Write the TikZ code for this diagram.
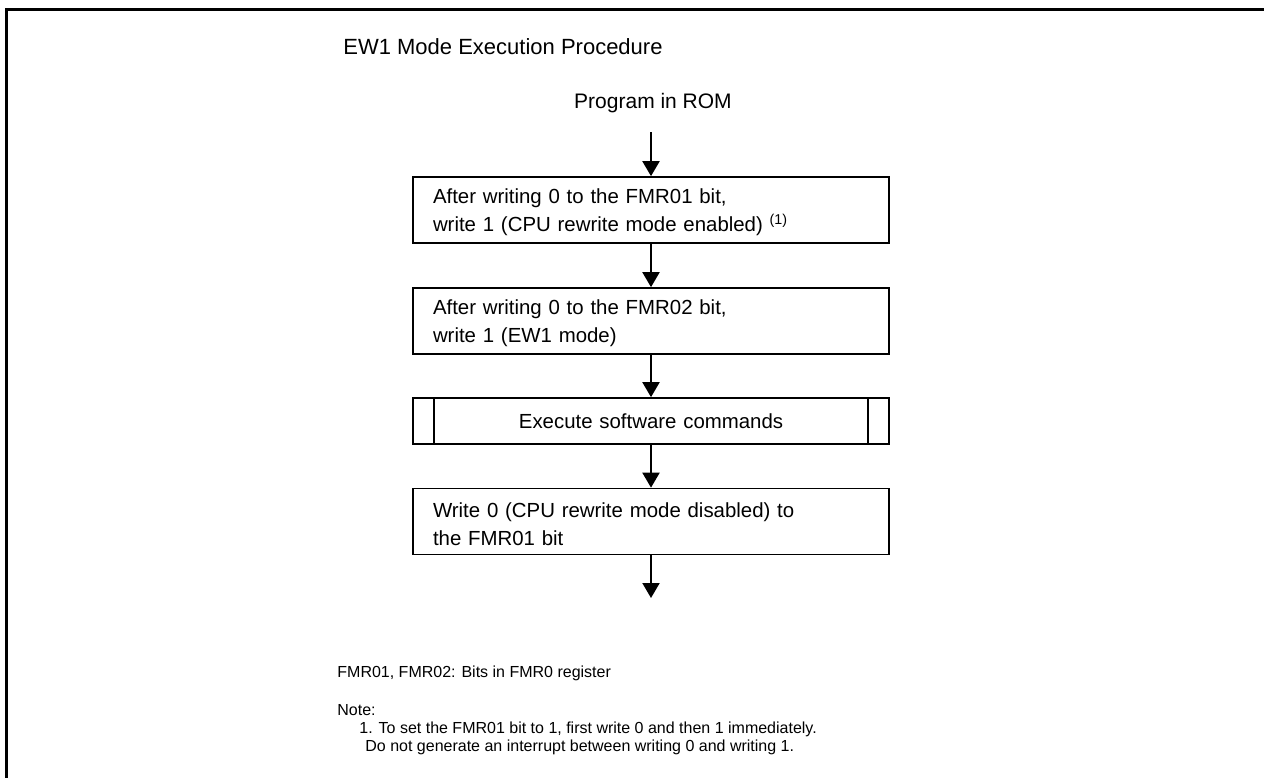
\documentclass[tikz,border=0pt]{standalone}
\usepackage{fontspec}
\setmainfont{Liberation Sans}
\usepackage{tikz}
\usetikzlibrary{arrows.meta,positioning}

\begin{document}
\begin{tikzpicture}[
  x=0.5pt, y=-0.5pt,
  every node/.style={inner sep=0pt},
  boxtxt/.style={font=\fontsize{10.2}{14}\selectfont},
  plainbox/.style={boxtxt, draw=black, line width=0.85pt, rectangle, minimum width=238pt, minimum height=33pt,
    text width=218pt, inner xsep=10pt, align=left},
  stepbox/.style={plainbox, text height=9.8pt},
  subbox/.style={plainbox, minimum height=23pt, align=center},
  notetxt/.style={font=\fontsize{8}{9.5}\selectfont, anchor=west},
  arr/.style={-{Triangle[width=8.5pt,length=7.5pt]}, line width=1pt}
]
\useasboundingbox (0,0) rectangle (1264,778);

% outer frame (top and left edges)
\draw[line width=1.5pt] (1264,9) -- (6,9) -- (6,778);

% title and start
\node[anchor=west, font=\fontsize{11}{13}\selectfont] (title) at (343,47) {EW1 Mode Execution Procedure};
\node[font=\fontsize{10.5}{13}\selectfont] (start) at (653,103) {Program in ROM};
\coordinate (top) at (651,132);

% procedure steps
\node[stepbox] (S1) at (651,210) {After writing 0 to the FMR01 bit,\\write 1 (CPU rewrite mode enabled) \textsuperscript{(1)}};
\node[stepbox] (S2) at (651,321) {After writing 0 to the FMR02 bit,\\write 1 (EW1 mode)};
\node[subbox] (S3) at (651,421) {Execute software commands};
\draw[line width=0.85pt] ([xshift=11pt]S3.north west) -- ([xshift=11pt]S3.south west);
\draw[line width=0.85pt] ([xshift=-11pt]S3.north east) -- ([xshift=-11pt]S3.south east);
\node[stepbox] (S4) at (651,521.5) {Write 0 (CPU rewrite mode disabled) to\\the FMR01 bit};
\coordinate (bottom) at (651,598);

\draw[arr] (top) -- (S1.north);
\draw[arr] (S1.south) -- (S2.north);
\draw[arr] (S2.south) -- (S3.north);
\draw[arr] (S3.south) -- (S4.north);
\draw[arr] (S4.south) -- (bottom);

% notes
\node[notetxt] (bits) at (337,673) {FMR01, FMR02: Bits in FMR0 register};
\node[notetxt] (note) at (337,710) {Note:};
\node[notetxt] (n1a) at (359,729) {1. To set the FMR01 bit to 1, first write 0 and then 1 immediately.};
\node[notetxt] (n1b) at (365,747) {Do not generate an interrupt between writing 0 and writing 1.};

\end{tikzpicture}
\end{document}
